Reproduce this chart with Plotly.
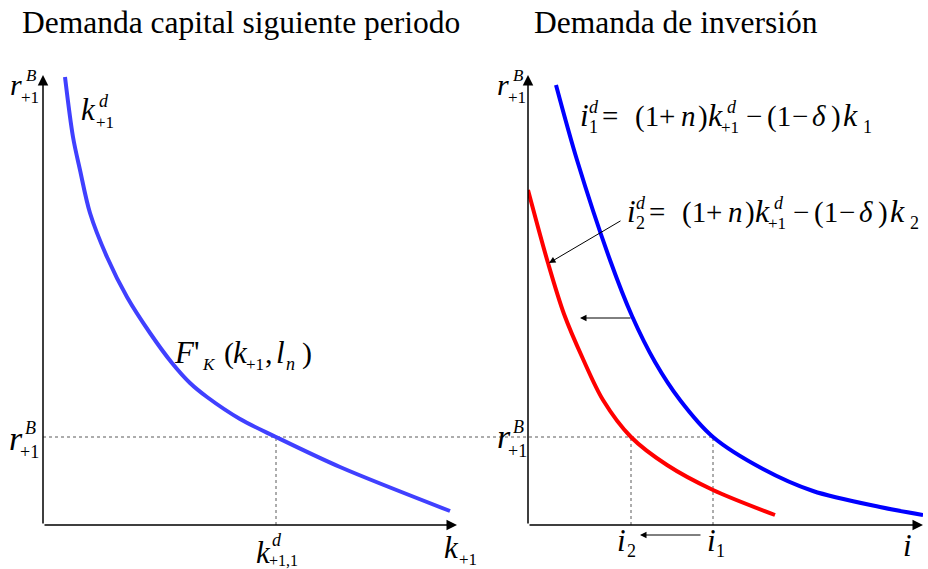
import plotly.graph_objects as go

W, H = 928, 569
FONT = "Liberation Serif"

# ---- data (axis units) ----
# capital demand next period: k_{+1} vs r_{+1}^B
k_next = [2.2, 3.0, 3.7, 4.7, 6.4, 8.4, 10.7, 12.9, 14.7, 16.4, 19.7, 23.3, 29.7, 40.7]
r_k = [44.8, 38.8, 35.5, 31.2, 26.8, 22.8, 19.2, 16.2, 14.2, 12.8, 10.6, 8.8, 5.8, 1.4]

# investment demand with k_1 and with k_2
inv1 = [2.8, 4.9, 8.2, 10.4, 12.7, 15.2, 18.5, 23.5, 28.5, 35.2, 39.5]
r_inv1 = [44.0, 36.5, 26.5, 20.9, 16.3, 12.5, 8.8, 5.6, 3.4, 1.8, 1.0]
inv2 = [0.0, 2.0, 3.6, 5.5, 7.5, 10.3, 13.9, 18.5, 24.7]
r_inv2 = [33.5, 26.2, 21.1, 16.6, 12.5, 8.8, 6.0, 3.5, 1.0]

r_B = 8.8        # bond rate r_{+1}^B
k_eq = 23.3      # k^d_{+1,1}
i1_eq = 18.5     # i_1
i2_eq = 10.3     # i_2

X1_MAX, X2_MAX, Y_MAX = 41.4, 39.5, 45.0

fig = go.Figure()
curve = dict(width=4, shape="spline", smoothing=0.9)
fig.add_trace(go.Scatter(x=k_next, y=r_k, mode="lines", xaxis="x", yaxis="y",
                         line=dict(color="#4040ff", **curve), hoverinfo="skip", showlegend=False))
fig.add_trace(go.Scatter(x=inv1, y=r_inv1, mode="lines", xaxis="x2", yaxis="y2",
                         line=dict(color="#0000ff", **curve), hoverinfo="skip", showlegend=False))
fig.add_trace(go.Scatter(x=inv2, y=r_inv2, mode="lines", xaxis="x2", yaxis="y2",
                         line=dict(color="#ff0000", **curve), hoverinfo="skip", showlegend=False))

shapes = []
dot = dict(color="#5a5a5a", width=1, dash="dot")
# horizontal reference at r^B across both panels
shapes.append(dict(type="line", xref="paper", yref="y", x0=43 / W, x1=(528 + i1_eq * 10) / W,
                   y0=r_B, y1=r_B, line=dot, layer="below"))
shapes.append(dict(type="line", xref="x", yref="y", x0=k_eq, x1=k_eq, y0=0, y1=r_B, line=dot, layer="below"))
shapes.append(dict(type="line", xref="x2", yref="y2", x0=i1_eq, x1=i1_eq, y0=0, y1=r_B, line=dot, layer="below"))
shapes.append(dict(type="line", xref="x2", yref="y2", x0=i2_eq, x1=i2_eq, y0=0, y1=r_B, line=dot, layer="below"))

ann = []


def arrow(xr, yr, x, y, ax, ay, width=1.5, size=1.4):
    ann.append(dict(xref=xr, yref=yr, axref=xr, ayref=yr, x=x, y=y, ax=ax, ay=ay, text="",
                    showarrow=True, arrowhead=2, arrowsize=size, arrowwidth=width,
                    arrowcolor="black", standoff=0, startstandoff=0))


# axes with arrow tips
arrow("x", "y", 0, Y_MAX, 0, 0)
arrow("x", "y", X1_MAX, 0, 0, 0)
arrow("x2", "y2", 0, Y_MAX, 0, 0)
arrow("x2", "y2", X2_MAX, 0, 0, 0)
# shift of the demand curve and pointer to the new curve
arrow("x2", "y2", 5.2, 20.7, 10.4, 20.7, width=1, size=1.3)
arrow("x2", "y2", 2.1, 26.2, 9.4, 30.5, width=1, size=1.3)
# i_1 -> i_2, drawn just below the horizontal axis
ann.append(dict(xref="x2", yref="paper", axref="x2", ayref="pixel", x=11.2, y=1 - 535 / H,
                ax=17.4, ay=0, text="", showarrow=True, arrowhead=2, arrowsize=1.3,
                arrowwidth=1, arrowcolor="black", standoff=0, startstandoff=0))


def put(html, x, base, size):
    ann.append(dict(xref="paper", yref="paper", x=x / W, y=1 - (base - 0.34 * size) / H,
                    text=html, showarrow=False, xanchor="left", yanchor="middle",
                    font=dict(family=FONT, size=size, color="black"), borderpad=0, borderwidth=0))


def it(s):
    return f"<i>{s}</i>"


# titles
put("Demanda capital siguiente periodo", 22, 33, 31.5)
put("Demanda de inversión", 534, 33, 31.5)


def rB(x, base, size, ssize, dy_sup, dy_sub):
    put(it("r"), x, base, size)
    put(it("B"), x + 16, base - dy_sup, ssize)
    put("+1", x + 11, base + dy_sub, ssize)


rB(10, 95, 30, 17, 14, 8)
rB(9, 450, 34, 18, 16, 8)
rB(497, 95, 30, 17, 14, 8)
rB(497, 448, 34, 18, 15, 9)

# k^d_{+1}
put(it("k"), 81, 120, 31)
put(it("d"), 99, 107, 18)
put("+1", 96, 128, 17)

# F'_K(k_{+1}, l_n)
put(it("F") + "'", 174, 363, 31)
put(it("K"), 202, 370, 17)
put("(", 224, 363, 30)
put(it("k"), 233, 363, 31)
put("+1", 246, 370, 17)
put(",", 265, 363, 30)
put(it("l"), 276, 363, 31)
put(it("n"), 286, 370, 18)
put(")", 302, 363, 30)

# k^d_{+1,1} and k_{+1}
put(it("k"), 256, 563, 31)
put(it("d"), 272, 546, 18)
put("+1,1", 269, 566, 16)
put(it("k"), 444, 558, 31)
put("+1", 459, 565, 17)

# i_2, i_1, i
put(it("i"), 617, 551, 31)
put("2", 627, 557, 18)
put(it("i"), 707, 551, 31)
put("1", 716, 557, 18)
put(it("i"), 903, 556, 31)


def formula(x, base, idx):
    s = 29
    put(it("i"), x, base, 31)
    put(it("d"), x + 9, base - 13, 18)
    put(idx, x + 9, base + 7, 18)
    put("=", x + 22, base, s)
    put("(1", x + 55, base, s)
    put("+", x + 79, base, s)
    put(it("n"), x + 101, base, s)
    put(")", x + 118, base, s)
    put(it("k"), x + 128, base, 32)
    put(it("d"), x + 147, base - 13, 18)
    put("+1", x + 141, base + 7, 17)
    put("−", x + 166, base, s)
    put("(1", x + 187, base, s)
    put("−", x + 212, base, s)
    put(it("δ"), x + 232, base, s)
    put(")", x + 251, base, s)
    put(it("k"), x + 263, base, 32)
    put(idx, x + 283, base + 7, 18)


formula(580, 126, "1")
formula(627, 222, "2")

ydom = [(H - 525) / H, (H - 75) / H]
axis_common = dict(visible=False, fixedrange=True)
fig.update_layout(
    width=W, height=H,
    margin=dict(l=0, r=0, t=0, b=0),
    paper_bgcolor="white", plot_bgcolor="white",
    xaxis=dict(domain=[43 / W, 457 / W], range=[0, X1_MAX], anchor="y", **axis_common),
    yaxis=dict(domain=ydom, range=[0, Y_MAX], anchor="x", **axis_common),
    xaxis2=dict(domain=[528 / W, 923 / W], range=[0, X2_MAX], anchor="y2", **axis_common),
    yaxis2=dict(domain=ydom, range=[0, Y_MAX], anchor="x2", **axis_common),
    shapes=shapes,
    annotations=ann,
    showlegend=False,
)

fig.write_html("out.html", config={"displayModeBar": False})
